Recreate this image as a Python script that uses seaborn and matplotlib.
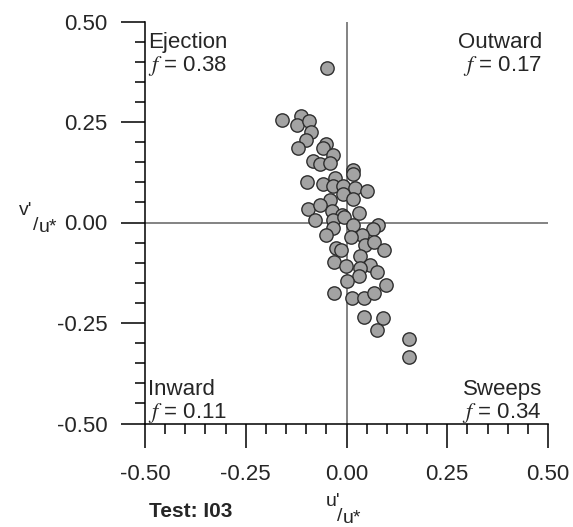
import matplotlib
matplotlib.use("Agg")
import matplotlib.pyplot as plt
import seaborn as sns
import pandas as pd
from matplotlib.ticker import MultipleLocator, FixedLocator, StrMethodFormatter

# ---- data ----
u_prime = [-0.048, -0.159, -0.114, -0.124, -0.092, -0.088, -0.101, -0.120, -0.051, -0.058,
           -0.034, -0.084, -0.066, -0.040, 0.015, 0.016, -0.099, -0.058, -0.029, -0.033,
           -0.009, 0.020, 0.052, -0.009, -0.040, 0.015, -0.096, -0.066, -0.037, -0.012,
           0.032, -0.078, -0.033, -0.005, 0.017, -0.033, 0.079, 0.066, -0.051, 0.038,
           0.012, 0.047, 0.067, -0.026, -0.014, 0.092, 0.033, -0.030, -0.001, 0.059,
           0.033, 0.075, 0.032, 0.000, 0.099, -0.030, 0.014, 0.043, 0.067, 0.044,
           0.091, 0.075, 0.155, 0.155]
v_prime = [0.385, 0.255, 0.265, 0.243, 0.252, 0.224, 0.205, 0.186, 0.195, 0.185,
           0.168, 0.153, 0.146, 0.148, 0.131, 0.121, 0.100, 0.097, 0.111, 0.092,
           0.091, 0.086, 0.078, 0.071, 0.055, 0.058, 0.033, 0.044, 0.028, 0.019,
           0.023, 0.006, 0.007, 0.014, -0.007, -0.014, -0.007, -0.017, -0.032, -0.032,
           -0.036, -0.057, -0.049, -0.064, -0.068, -0.069, -0.084, -0.099, -0.107, -0.106,
           -0.114, -0.122, -0.134, -0.146, -0.155, -0.176, -0.188, -0.187, -0.175, -0.236,
           -0.238, -0.267, -0.290, -0.335]

quadrant_names = ["Ejection", "Outward", "Inward", "Sweeps"]
quadrant_f = [0.38, 0.17, 0.11, 0.34]
tick_values = [-0.50, -0.25, 0.00, 0.25, 0.50]
test_label = "Test: I03"

df = pd.DataFrame({"u": u_prime, "v": v_prime})

# ---- style ----
sns.set_theme(style="ticks")
plt.rcParams["font.family"] = ["Liberation Sans", "DejaVu Sans"]
plt.rcParams["mathtext.fontset"] = "stix"
plt.rcParams["axes.unicode_minus"] = False

W, H = 573, 527
fig = plt.figure(figsize=(W / 100, H / 100), dpi=100)
fig.patch.set_facecolor("white")

def fx(px):
    return px / W

def fy(py):
    return 1 - py / H

ax = fig.add_axes([fx(145), fy(423.5), 403 / W, 402 / H])
ax.set_facecolor("white")

ax.axhline(0, color="#7a7a7a", lw=1.3, zorder=1)
ax.axvline(0, color="#7a7a7a", lw=1.3, zorder=1)

sns.scatterplot(data=df, x="u", y="v", ax=ax, s=92, color="#a3a3a3",
                edgecolor="#2e2e2e", linewidth=1.0, zorder=3, legend=False)

ax.set_xlim(-0.5, 0.5)
ax.set_ylim(-0.5, 0.5)
ax.xaxis.set_major_locator(FixedLocator(tick_values))
ax.yaxis.set_major_locator(FixedLocator(tick_values))
ax.xaxis.set_minor_locator(MultipleLocator(0.05))
ax.yaxis.set_minor_locator(MultipleLocator(0.05))
ax.xaxis.set_major_formatter(StrMethodFormatter("{x:.2f}"))
ax.yaxis.set_major_formatter(StrMethodFormatter("{x:.2f}"))

for s in ["top", "right"]:
    ax.spines[s].set_visible(False)
for s in ["left", "bottom"]:
    ax.spines[s].set_color("black")
    ax.spines[s].set_linewidth(1.1)

ax.tick_params(which="major", direction="out", length=17, width=1.1,
               color="black", labelsize=16, pad=10)
ax.tick_params(axis="x", which="major", pad=12)
ax.tick_params(which="minor", direction="out", length=7.5, width=1.1, color="black")
ax.set_xlabel("")
ax.set_ylabel("")

# quadrant annotations
fs = 16
pos = [(0.008, 0.934, "left"), (0.985, 0.934, "right"),
       (0.008, 0.071, "left"), (0.985, 0.071, "right")]
for (x, y, ha), name, f in zip(pos, quadrant_names, quadrant_f):
    ax.text(x, y, name, transform=ax.transAxes, ha=ha, va="baseline", fontsize=fs)
    ax.text(x, y - 0.057, r"$f$" + f" = {f:.2f}", transform=ax.transAxes,
            ha=ha, va="baseline", fontsize=fs)

# axis labels built from pieces (prime over slash over u*)
lfs = 14
fig.text(fx(326), fy(506), "u'", fontsize=lfs, ha="left", va="baseline")
fig.text(fx(337), fy(521), "/", fontsize=lfs, ha="left", va="baseline")
fig.text(fx(343), fy(523), "u*", fontsize=lfs, ha="left", va="baseline")

fig.text(fx(19), fy(215), "v'", fontsize=lfs, ha="left", va="baseline")
fig.text(fx(33), fy(230), "/", fontsize=lfs, ha="left", va="baseline")
fig.text(fx(39), fy(232), "u*", fontsize=lfs, ha="left", va="baseline")

fig.text(fx(149), fy(517), test_label, fontsize=15, fontweight="bold",
         ha="left", va="baseline")

fig.savefig("out.png", dpi=100, facecolor="white")
